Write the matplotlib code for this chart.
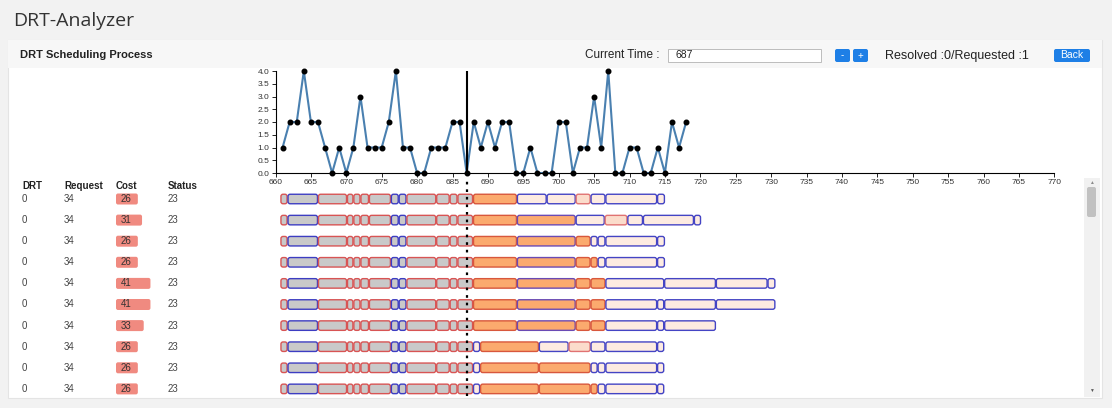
import matplotlib
matplotlib.use("Agg")
import matplotlib.pyplot as plt
from matplotlib.patches import FancyBboxPatch, Rectangle

plt.rcParams['font.family'] = ['Liberation Sans', 'DejaVu Sans']

# ---- data ----
times = list(range(661, 719))
requests = [1, 2, 2, 4, 2, 2, 1, 0, 1, 0, 1, 3, 1, 1, 1, 2, 4, 1, 1, 0,
            0, 1, 1, 1, 2, 2, 0, 2, 1, 2, 1, 2, 2, 0, 0, 1, 0, 0, 0, 2,
            2, 0, 1, 1, 3, 1, 4, 0, 0, 1, 1, 0, 0, 1, 0, 2, 1, 2]
current_time = 687

drt_ids = [0] * 10
request_ids = [34] * 10
costs = [26, 31, 26, 26, 41, 41, 33, 26, 26, 26]
statuses = [23] * 10

# schedule segments: shared prefix, then a tail per vehicle plan
prefix_bounds = [660.7, 661.7, 666.0, 670.1, 671.0, 672.0, 673.2, 676.3,
                 677.4, 678.5, 682.7, 684.6, 685.7, 687.9]
prefix_kinds = ['gr', 'gb', 'gr', 'gr', 'gr', 'gr', 'gr', 'gb', 'gb',
                'gr', 'gr', 'gr', 'gr']
tail_bounds = [
    [687.9, 694.1, 698.3, 702.4, 704.5, 706.6, 713.9, 715.0],
    [687.9, 694.1, 702.4, 706.5, 709.7, 711.9, 719.1, 720.1],
    [687.9, 694.1, 702.4, 704.5, 705.5, 706.6, 713.9, 715.0],
    [687.9, 694.1, 702.4, 704.5, 705.5, 706.6, 713.9, 715.0],
    [687.9, 694.1, 702.4, 704.5, 706.6, 714.9, 722.2, 729.5, 730.6],
    [687.9, 694.1, 702.4, 704.5, 706.6, 713.9, 714.9, 722.2, 730.6],
    [687.9, 694.1, 702.4, 704.5, 706.6, 713.9, 714.9, 722.2],
    [687.9, 688.9, 697.2, 701.4, 704.5, 706.6, 713.9, 714.9],
    [687.9, 688.9, 697.2, 704.5, 705.5, 706.6, 713.9, 714.9],
    [687.9, 688.9, 697.2, 704.5, 705.5, 706.6, 713.9, 714.9],
]
tail_kinds = [
    ['or', 'pb', 'pb', 'pr', 'pb', 'pb', 'pb'],
    ['or', 'ob', 'pb', 'pr', 'pb', 'pb', 'pb'],
    ['or', 'ob', 'or', 'pb', 'pb', 'pb', 'pb'],
    ['or', 'ob', 'or', 'or', 'pb', 'pb', 'pb'],
    ['or', 'ob', 'or', 'or', 'pb', 'pb', 'pb', 'pb'],
    ['or', 'ob', 'or', 'or', 'pb', 'pb', 'pb', 'pb'],
    ['or', 'ob', 'or', 'or', 'pb', 'pb', 'pb'],
    ['pb', 'or', 'pb', 'pr', 'pb', 'pb', 'pb'],
    ['pb', 'or', 'or', 'pb', 'pb', 'pb', 'pb'],
    ['pb', 'or', 'or', 'or', 'pb', 'pb', 'pb'],
]

styles = {
    'gr': ('#c9c9c9', '#d85454'),
    'gb': ('#c9c9c9', '#3d3dc2'),
    'or': ('#fbaa6e', '#d8573c'),
    'ob': ('#fbaa6e', '#6a4ab4'),
    'pb': ('#fdebe1', '#4444c4'),
    'pr': ('#fbdccb', '#e07272'),
}

W, H = 1112, 408


def px_rect(x0, y0, x1, y1):
    return [x0 / W, 1 - y1 / H, (x1 - x0) / W, (y1 - y0) / H]


fig = plt.figure(figsize=(W / 100, H / 100), dpi=100)
fig.patch.set_facecolor('#f2f2f2')

# ---- page chrome ----
bg = fig.add_axes([0, 0, 1, 1], zorder=-5)
bg.set_xlim(0, W)
bg.set_ylim(H, 0)
bg.axis('off')
bg.add_patch(Rectangle((8, 40), 1094, 358, facecolor='white', edgecolor='#e4e4e4', lw=0.8))
bg.add_patch(Rectangle((8, 40), 1094, 28, facecolor='#f7f7f7', edgecolor='none'))
bg.add_patch(Rectangle((1084, 178), 16, 219, facecolor='#f1f1f1', edgecolor='none'))
bg.add_patch(FancyBboxPatch((1087, 187), 9, 30, boxstyle='round,pad=0,rounding_size=2',
                            facecolor='#c1c1c1', edgecolor='none'))
bg.text(1091.5, 182, '▲', fontsize=3.5, color='#8a8a8a', ha='center', va='center')
bg.text(1091.5, 390, '▼', fontsize=3.5, color='#555555', ha='center', va='center')

bg.text(13, 21, 'DRT-Analyzer', fontsize=14, color='#333333', va='center',
        family=['Open Sans', 'DejaVu Sans'])
bg.text(20, 55.5, 'DRT Scheduling Process', fontsize=8, fontweight='bold',
        color='#222222', va='center')
bg.text(585, 55.5, 'Current Time :', fontsize=8.5, color='#222222', va='center')
bg.add_patch(Rectangle((668, 49), 153, 13, facecolor='white', edgecolor='#bdbdbd', lw=0.7))
bg.text(675, 55.5, str(current_time), fontsize=7.5, color='#222222', va='center')
for x0, lab in [(835, '-'), (853, '+')]:
    bg.add_patch(FancyBboxPatch((x0, 49), 15, 13, boxstyle='round,pad=0,rounding_size=2',
                                facecolor='#1e7fe6', edgecolor='none'))
    bg.text(x0 + 7.5, 55.5, lab, fontsize=7, color='white', ha='center', va='center')
bg.text(885, 55.5, 'Resolved :0/Requested :1', fontsize=9, color='#222222', va='center')
bg.add_patch(FancyBboxPatch((1054, 49), 36, 13, boxstyle='round,pad=0,rounding_size=2',
                            facecolor='#1e7fe6', edgecolor='none'))
bg.text(1072, 55.5, 'Back', fontsize=7.5, color='white', ha='center', va='center')

# ---- request count line chart ----
x_left, x_right = 275.5, 1054.3
ax = fig.add_axes(px_rect(x_left, 71, x_right, 173))
ax.plot(times, requests, color='#4a80b0', lw=1.5, zorder=2, clip_on=False)
ax.plot(times, requests, 'o', color='black', ms=3.3, zorder=3, clip_on=False)
ax.axvline(current_time, color='black', lw=1.5, zorder=4)
ax.set_xlim(660, 770)
ax.set_ylim(0, 4)
ax.set_xticks(range(660, 771, 5))
ax.set_yticks([i * 0.5 for i in range(9)])
ax.set_yticklabels(['%.1f' % (i * 0.5) for i in range(9)])
for s in ['top', 'right']:
    ax.spines[s].set_visible(False)
for s in ['left', 'bottom']:
    ax.spines[s].set_linewidth(0.8)
ax.tick_params(labelsize=6, labelcolor='#333333', length=3, width=0.6, pad=1.5)
ax.patch.set_visible(False)

# ---- schedule gantt ----
row_top, row_gap = 199, 21.1
gy0, gy1 = 178, 396
ax_g = fig.add_axes(px_rect(x_left, gy0, x_right, gy1))
ax_g.set_xlim(660, 770)
ax_g.set_ylim((gy1 - row_top) / row_gap, (gy0 - row_top) / row_gap)
ax_g.axis('off')
bar_h = 0.45
for i in range(len(tail_bounds)):
    bounds = prefix_bounds + tail_bounds[i][1:]
    kinds = prefix_kinds + tail_kinds[i]
    for k in range(len(kinds)):
        fc, ec = styles[kinds[k]]
        x0 = bounds[k] + 0.07
        w = bounds[k + 1] - bounds[k] - 0.14
        ax_g.add_patch(FancyBboxPatch((x0, i - bar_h / 2), w, bar_h,
                                      boxstyle='round,pad=0,rounding_size=0.3',
                                      mutation_aspect=0.33,
                                      facecolor=fc, edgecolor=ec, lw=1.0))
ax_g.axvline(current_time, color='black', lw=1.6, ls=(0, (1.2, 2.2)), zorder=5)

# ---- request table ----
ax_t = fig.add_axes(px_rect(0, gy0, 270, gy1))
ax_t.set_xlim(0, 270)
ax_t.set_ylim(gy1, gy0)
ax_t.axis('off')
for x0, lab in [(22, 'DRT'), (64, 'Request'), (116, 'Cost'), (168, 'Status')]:
    ax_t.text(x0, 186, lab, fontsize=7, fontweight='bold', color='#222222', va='center')
for i in range(len(costs)):
    y = row_top + i * row_gap
    ax_t.text(22, y, str(drt_ids[i]), fontsize=7, color='#444444', va='center')
    ax_t.text(64, y, str(request_ids[i]), fontsize=7, color='#444444', va='center')
    ax_t.add_patch(FancyBboxPatch((116, y - 5.5), costs[i] * 0.84, 11,
                                  boxstyle='round,pad=0,rounding_size=2',
                                  facecolor='#f08a80', edgecolor='none'))
    ax_t.text(121, y, str(costs[i]), fontsize=7, color='#333333', va='center')
    ax_t.text(168, y, str(statuses[i]), fontsize=7, color='#444444', va='center')

fig.savefig('out.png', dpi=100, facecolor=fig.get_facecolor())
